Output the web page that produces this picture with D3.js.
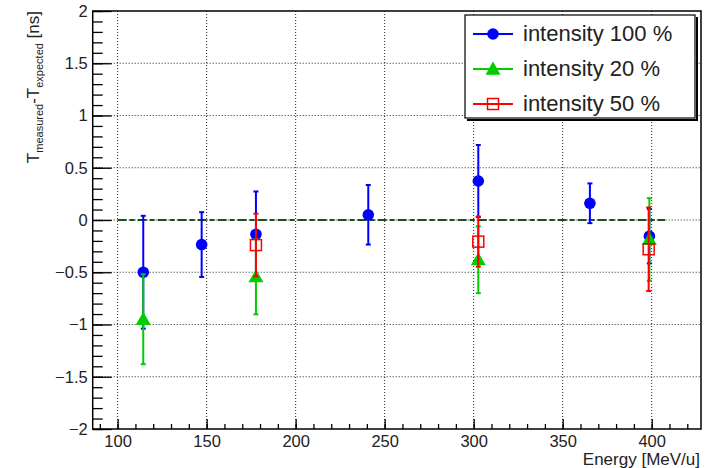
<!DOCTYPE html>
<html>
<head>
<meta charset="utf-8">
<script src="https://cdn.jsdelivr.net/npm/d3@7"></script>
<style>
  html, body { margin: 0; padding: 0; background: #fff; }
  svg { display: block; font-family: "Liberation Sans", Arial, sans-serif; }
</style>
</head>
<body>
<svg id="chart" width="722" height="468"></svg>
<script>
// ---- data ----
const energy100 = [114.4, 147.2, 177.7, 240.8, 302.6, 365.3, 398.7];
const value100  = [-0.50, -0.235, -0.137, 0.05, 0.373, 0.16, -0.155];
const error100  = [0.54, 0.31, 0.41, 0.285, 0.345, 0.19, 0.26];

const energy20 = [114.4, 177.7, 302.6, 398.7];
const value20  = [-0.95, -0.543, -0.38, -0.186];
const error20  = [0.43, 0.36, 0.32, 0.395];

const energy50 = [177.7, 302.6, 398.3];
const value50  = [-0.24, -0.207, -0.28];
const error50  = [0.30, 0.24, 0.40];

const legendLabels = ["intensity 100 %", "intensity 20 %", "intensity 50 %"];
const xTicks = [100, 150, 200, 250, 300, 350, 400];
const yTicks = [-2, -1.5, -1, -0.5, 0, 0.5, 1, 1.5, 2];
const refLine = { x0: 100, x1: 407.5, y: 0 };

// ---- layout ----
const svg = d3.select("#chart");
const L = 92.7, R = 701, T = 11, B = 429;
const x = d3.scaleLinear().domain([86, 427.7]).range([L, R]);
const y = d3.scaleLinear().domain([-2, 2]).range([B, T]);
const fmt = v => (v < 0 ? "\u2212" : "") + Math.abs(v);

svg.append("rect").attr("width", 722).attr("height", 468).attr("fill", "#fff");

// grid
const grid = svg.append("g").attr("stroke", "#000").attr("stroke-width", 1).attr("stroke-dasharray", "1,2").attr("opacity", 0.85);
grid.selectAll("line.v").data(xTicks).join("line")
  .attr("x1", d => x(d)).attr("x2", d => x(d)).attr("y1", T).attr("y2", B);
grid.selectAll("line.h").data(yTicks.filter(d => d > -2 && d < 2)).join("line")
  .attr("x1", L).attr("x2", R).attr("y1", d => y(d)).attr("y2", d => y(d));

// axes
const yMinor = d3.range(-20, 21).map(i => i / 10);
const xMinor = d3.range(90, 421, 10);

const yAxis = d3.axisLeft(y).tickValues(yTicks).tickFormat(fmt).tickSizeInner(-19).tickSizeOuter(0).tickPadding(5);
const yAxisMinor = d3.axisLeft(y).tickValues(yMinor).tickFormat("").tickSizeInner(-10).tickSizeOuter(0);
const xAxis = d3.axisBottom(x).tickValues(xTicks).tickFormat(fmt).tickSizeInner(-10).tickSizeOuter(0).tickPadding(6);
const xAxisMinor = d3.axisBottom(x).tickValues(xMinor).tickFormat("").tickSizeInner(-5).tickSizeOuter(0);

function styleAxis(g) {
  g.select(".domain").remove();
  g.selectAll(".tick line").attr("stroke", "#000").attr("stroke-width", 1.3);
  g.selectAll(".tick text").attr("fill", "#222").style("font-size", "16.5px")
    .style("font-family", "'Liberation Sans', Arial, sans-serif");
}
svg.append("g").attr("transform", `translate(${L},0)`).call(yAxisMinor).call(styleAxis);
svg.append("g").attr("transform", `translate(${L},0)`).call(yAxis).call(styleAxis);
svg.append("g").attr("transform", `translate(0,${B})`).call(xAxisMinor).call(styleAxis);
svg.append("g").attr("transform", `translate(0,${B})`).call(xAxis).call(styleAxis);

// frame
svg.append("rect").attr("x", L).attr("y", T).attr("width", R - L).attr("height", B - T)
  .attr("fill", "none").attr("stroke", "#000").attr("stroke-width", 1.5);

// axis titles
svg.append("text").attr("x", R - 1).attr("y", 465).attr("text-anchor", "end")
  .attr("fill", "#222").style("font-size", "17px").text("Energy [MeV/u]");

const yt = svg.append("text").attr("transform", `translate(39,${T}) rotate(-90)`)
  .attr("text-anchor", "end").attr("fill", "#222").style("font-size", "17px");
yt.append("tspan").text("T");
yt.append("tspan").attr("dy", 4).style("font-size", "11px").text("measured");
yt.append("tspan").attr("dy", -4).text("-T");
yt.append("tspan").attr("dy", 4).style("font-size", "11px").text("expected");
yt.append("tspan").attr("dy", -4).text(" [ns]");

// reference line
svg.append("line").attr("x1", x(refLine.x0)).attr("x2", x(refLine.x1))
  .attr("y1", y(refLine.y)).attr("y2", y(refLine.y))
  .attr("stroke", "#1a4f1a").attr("stroke-width", 2).attr("stroke-dasharray", "9,3,5,3");

// series
const series = [
  { xs: energy100, ys: value100, es: error100, color: "#0000ff", marker: "circle" },
  { xs: energy20,  ys: value20,  es: error20,  color: "#00cc00", marker: "triangle" },
  { xs: energy50,  ys: value50,  es: error50,  color: "#ff0000", marker: "square" }
];

function drawMarker(g, type, color, cx, cy) {
  if (type === "circle") {
    g.append("circle").attr("cx", cx).attr("cy", cy).attr("r", 5.8).attr("fill", color);
  } else if (type === "triangle") {
    const s = 7.5;
    g.append("path").attr("d", `M${cx},${cy - s} L${cx + s},${cy + s * 0.75} L${cx - s},${cy + s * 0.75} Z`).attr("fill", color);
  } else {
    g.append("rect").attr("x", cx - 5.5).attr("y", cy - 5.5).attr("width", 11).attr("height", 11)
      .attr("fill", "none").attr("stroke", color).attr("stroke-width", 1.5);
  }
}

series.forEach(s => {
  const g = svg.append("g");
  s.xs.forEach((xv, i) => {
    const cx = x(xv), yv = s.ys[i], e = s.es[i];
    const y0 = y(yv + e), y1 = y(yv - e);
    g.append("line").attr("x1", cx).attr("x2", cx).attr("y1", y0).attr("y2", y1)
      .attr("stroke", s.color).attr("stroke-width", 2);
    [y0, y1].forEach(yy => g.append("line").attr("x1", cx - 2.5).attr("x2", cx + 2.5)
      .attr("y1", yy).attr("y2", yy).attr("stroke", s.color).attr("stroke-width", 2));
    drawMarker(g, s.marker, s.color, cx, y(yv));
  });
});

// legend
const lg = svg.append("g");
lg.append("rect").attr("x", 465).attr("y", 15).attr("width", 230).attr("height", 103)
  .attr("fill", "#fff").attr("stroke", "#000").attr("stroke-width", 1.2);
lg.append("path").attr("d", "M697,17 L697,120 L467,120").attr("fill", "none").attr("stroke", "#000").attr("stroke-width", 2);
const rowY = [34, 69, 104];
series.forEach((s, i) => {
  lg.append("line").attr("x1", 473).attr("x2", 513).attr("y1", rowY[i]).attr("y2", rowY[i])
    .attr("stroke", s.color).attr("stroke-width", 2);
  drawMarker(lg, s.marker, s.color, 493, rowY[i]);
  lg.append("text").attr("x", 523).attr("y", rowY[i] + 7).style("font-size", "22px")
    .attr("fill", "#222").text(legendLabels[i]);
});
</script>
</body>
</html>
